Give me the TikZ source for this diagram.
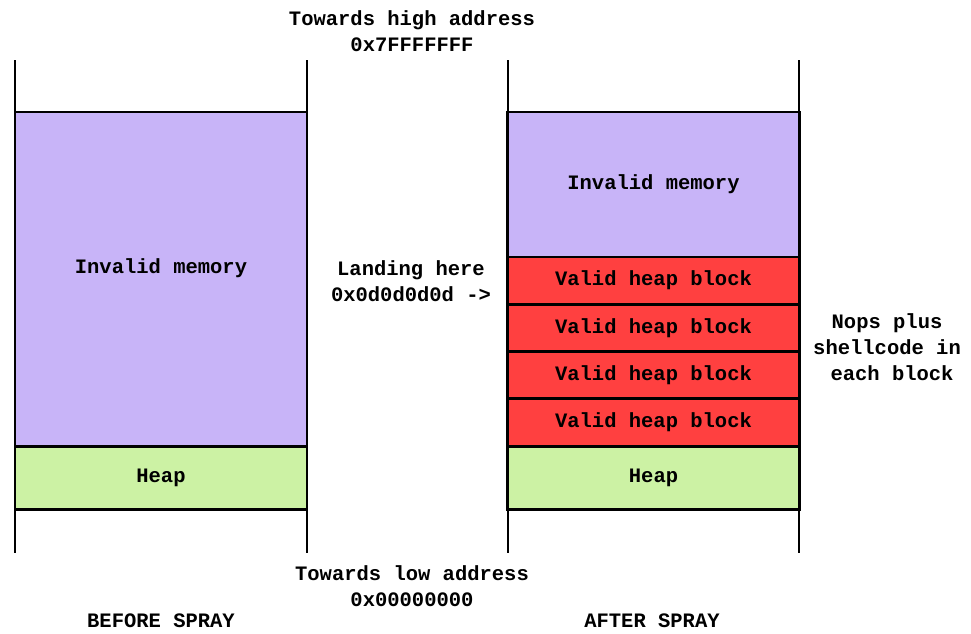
\documentclass[tikz,border=0pt]{standalone}
\usepackage{fontspec}
\setmainfont{Liberation Mono}
\usetikzlibrary{positioning}

\definecolor{invcol}{HTML}{C8B4F8}
\definecolor{validcol}{HTML}{FF4040}
\definecolor{heapcol}{HTML}{CCF2A4}

\begin{document}
\begin{tikzpicture}[x=1pt,y=-1pt,line width=2.5pt,font=\fontsize{20.5}{26}\selectfont\bfseries]
		\tikzstyle{mem}=[draw, minimum width=292, inner sep=0, outer sep=0];
		\tikzstyle{txt}=[inner sep=0, align=center];

		\useasboundingbox (0,0) rectangle (971,633);

		% columns
		\draw (15,60) -- (15,553);
		\draw (307,60) -- (307,553);
		\draw (508,60) -- (508,553);
		\draw (799,60) -- (799,553);

		% before spray
		\node[mem, fill=invcol, minimum height=334, label={[yshift=11]center:Invalid memory}] (inv_b) at (161,279) {};
		\node[mem, fill=heapcol, minimum height=63] (heap_b) at (161,478) {Heap};

		% after spray
		\node[mem, fill=invcol, minimum height=145] (inv_a) at (653.5,184.5) {Invalid memory};
		\node[mem, fill=validcol, minimum height=47.25] (blk_1) at (653.5,280.6) {Valid heap block};
		\node[mem, fill=validcol, minimum height=47.25] (blk_2) at (653.5,327.9) {Valid heap block};
		\node[mem, fill=validcol, minimum height=47.25] (blk_3) at (653.5,375.1) {Valid heap block};
		\node[mem, fill=validcol, minimum height=47.25] (blk_4) at (653.5,422.4) {Valid heap block};
		\node[mem, fill=heapcol, minimum height=63] (heap_a) at (653.5,478) {Heap};

		\node[txt] (high) at (412,31.5) {Towards high address\\0x7FFFFFFF};
		\node[txt] (land) at (411,281) {Landing here\\0x0d0d0d0d ->};
		\node[txt] (nops) at (887,347.5) {Nops plus\\shellcode in\\\hspace*{10pt}each block};
		\node[txt] (low) at (412,586) {Towards low address\\0x00000000};

		\node[txt] (before) at (161,621) {BEFORE SPRAY};
		\node[txt] (after) at (652,621) {AFTER SPRAY};

	\end{tikzpicture}
\end{document}
